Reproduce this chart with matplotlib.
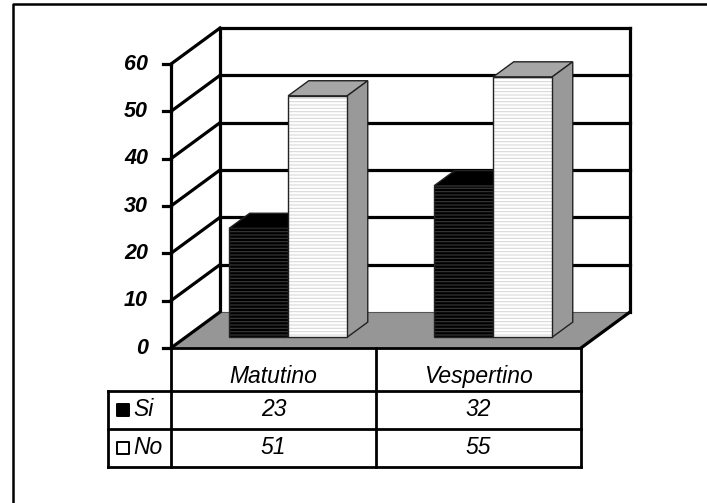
import numpy as np
import matplotlib.pyplot as plt
from matplotlib.patches import Polygon
from matplotlib.lines import Line2D

# data
categories = ["Matutino", "Vespertino"]
series = ["Si", "No"]
si_values = [23, 32]
no_values = [51, 55]
yticks = [0, 10, 20, 30, 40, 50, 60]

plt.rcParams['font.family'] = ['Liberation Sans', 'DejaVu Sans']
plt.rcParams['hatch.linewidth'] = 0.8

fig = plt.figure(figsize=(7.07, 5.03), dpi=100)
ax = fig.add_axes([0, 0, 1, 1])
ax.set_xlim(-0.834, 2.615)
ax.set_ylim(-32.75, 73.53)
ax.axis('off')

# depth vector of the pseudo 3d box (category units, value units)
dx, dy = 0.239, 7.6
ymax = yticks[-1]
n = len(categories)
lw = 2.3
gray = "#969696"

# outer frame
fig.add_artist(Line2D([0.018, 0.018, 1.0], [0.0, 0.992, 0.992],
                      transform=fig.transFigure, color="black", lw=1.8))

# back wall and side wall gridlines
for v in yticks[1:]:
    ax.plot([dx, n + dx], [v + dy, v + dy], color="black", lw=lw, zorder=1)
    ax.plot([0, dx], [v, v + dy], color="black", lw=lw, zorder=1)
    ax.plot([-0.039, 0], [v, v], color="black", lw=lw, zorder=1)
ax.plot([-0.039, 0], [0, 0], color="black", lw=lw, zorder=1)
ax.plot([dx, dx], [dy, ymax + dy], color="black", lw=lw, zorder=1)
ax.plot([n + dx, n + dx], [dy, ymax + dy], color="black", lw=lw, zorder=1)
ax.plot([0, 0], [0, ymax], color="black", lw=lw, zorder=1)

# floor
floor = Polygon([(0, 0), (dx, dy), (n + dx, dy), (n, 0)], closed=True,
                facecolor=gray, edgecolor="none", zorder=2)
ax.add_patch(floor)
ax.plot([dx, n + dx], [dy, dy], color="#555555", lw=0.8, zorder=2)
ax.plot([0, dx], [0, dy], color="black", lw=lw, zorder=2)
ax.plot([n, n + dx], [0, dy], color="black", lw=lw, zorder=2)

# tick labels
for v in yticks:
    ax.text(-0.112, v, str(v), ha="right", va="center", fontsize=15.5,
            fontweight="bold", fontstyle="italic")

# bars
w = 0.288
f0, f1 = 0.3, 0.72
styles = [
    dict(front="black", hatch_col="#3a3a3a", top="black", side="black"),
    dict(front="white", hatch_col="#d8d8d8", top="#a6a6a6", side="#999999"),
]
for i in range(n):
    c = i + 0.5
    for k, vals in enumerate([si_values, no_values]):
        v = vals[i]
        st = styles[k]
        x0 = c - w + k * w
        x1 = x0 + w
        top = Polygon([(x0 + f0 * dx, v + f0 * dy), (x1 + f0 * dx, v + f0 * dy),
                       (x1 + f1 * dx, v + f1 * dy), (x0 + f1 * dx, v + f1 * dy)],
                      closed=True, facecolor=st["top"], edgecolor="#222222",
                      lw=1.0, zorder=3 + 2 * k)
        side = Polygon([(x1 + f0 * dx, f0 * dy), (x1 + f1 * dx, f1 * dy),
                        (x1 + f1 * dx, v + f1 * dy), (x1 + f0 * dx, v + f0 * dy)],
                       closed=True, facecolor=st["side"], edgecolor="#222222",
                       lw=1.0, zorder=3 + 2 * k)
        ax.add_patch(top)
        ax.add_patch(side)
        ax.bar(x0 + f0 * dx + w / 2, v, width=w, bottom=f0 * dy,
               color=st["front"], edgecolor=st["hatch_col"], hatch="-----",
               linewidth=0, zorder=4 + 2 * k)
        ax.bar(x0 + f0 * dx + w / 2, v, width=w, bottom=f0 * dy,
               color="none", edgecolor="#222222", linewidth=1.0, zorder=4 + 2 * k)

# data table
row_y = [0, -9.08, -17.1, -25.1]
leg_x = -0.307
tl = 2.0
ax.plot([0, n], [0, 0], color="black", lw=tl, zorder=9)
for yy in row_y[1:]:
    ax.plot([leg_x, n], [yy, yy], color="black", lw=tl, zorder=9)
for xx in range(n + 1):
    ax.plot([xx, xx], [0, row_y[-1]], color="black", lw=tl, zorder=9)
ax.plot([leg_x, leg_x], [row_y[1], row_y[-1]], color="black", lw=tl, zorder=9)

for i, cat in enumerate(categories):
    ax.text(i + 0.5, -6.0, cat, ha="center", va="center", fontsize=16.5,
            fontstyle="italic")
    ax.text(i + 0.5, (row_y[1] + row_y[2]) / 2, str(si_values[i]), ha="center",
            va="center", fontsize=16.5, fontstyle="italic")
    ax.text(i + 0.5, (row_y[2] + row_y[3]) / 2, str(no_values[i]), ha="center",
            va="center", fontsize=16.5, fontstyle="italic")

for k, name in enumerate(series):
    ym = (row_y[k + 1] + row_y[k + 2]) / 2
    ax.scatter([-0.236], [ym], marker="s", s=85, color=styles[k]["front"],
               edgecolor="black", linewidth=1.4, zorder=10)
    ax.text(-0.183, ym, name, ha="left", va="center", fontsize=16.5,
            fontstyle="italic")

plt.savefig("out.png", dpi=100)
